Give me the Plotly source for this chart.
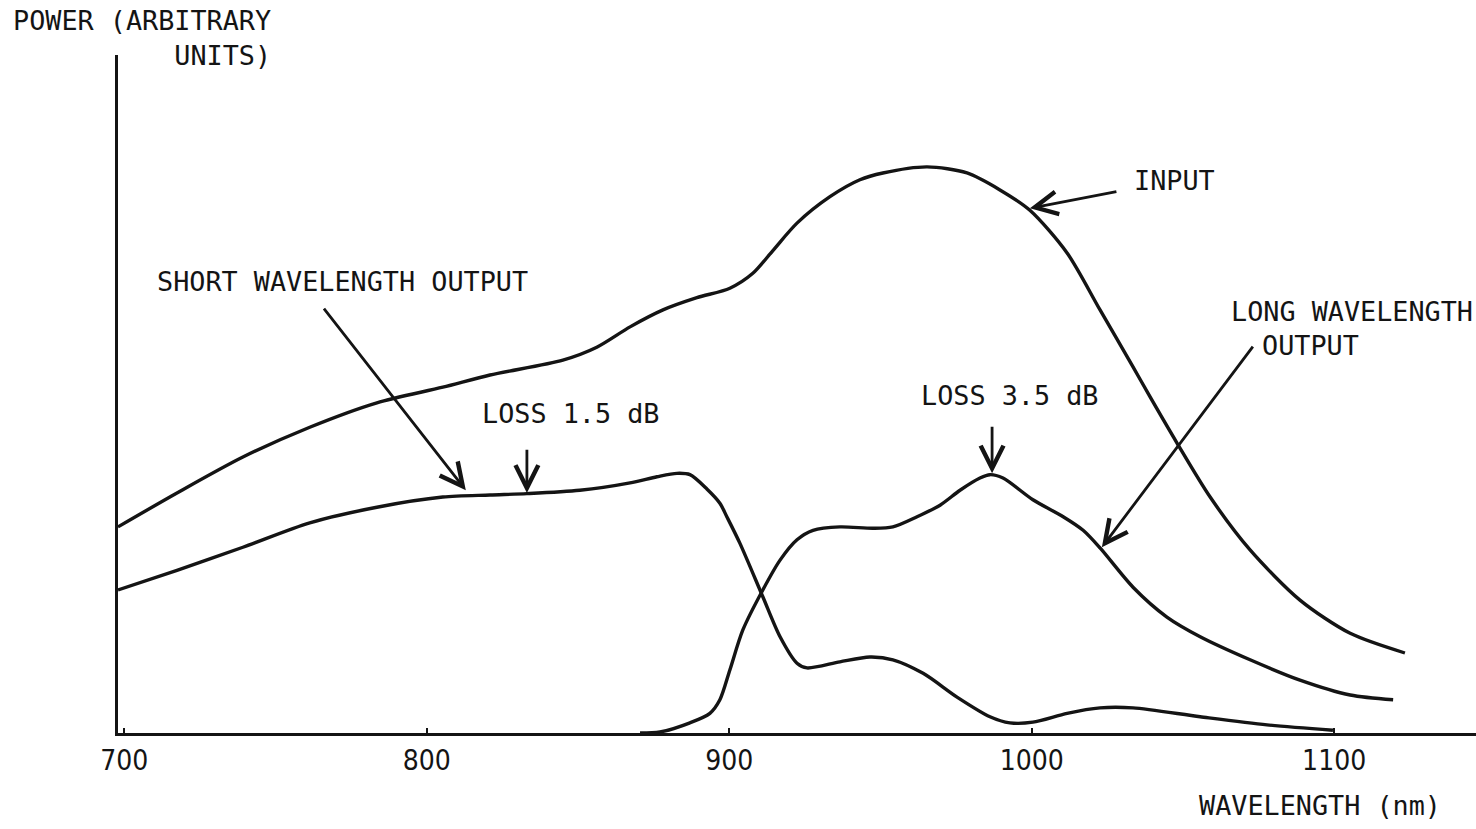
import plotly.graph_objects as go

# ---- data (wavelength nm, power arbitrary units) ----
input_nm = [697.9, 717.4, 739.2, 761.3, 783.5, 805.3, 820.9, 845.0, 856.2, 867.2, 878.1,
            889.3, 900.2, 907.8, 914.5, 922.4, 933.3, 943.2, 950.8, 965.4, 978.6, 989.5,
            999.4, 1011.7, 1022.6, 1033.5, 1039.1, 1048.0, 1059.0, 1072.2, 1088.7, 1105.3, 1123.4]
input_pw = [30.4, 35.4, 40.7, 45.1, 48.7, 51.0, 52.8, 55.0, 56.9, 59.9, 62.4,
            64.2, 65.6, 67.8, 71.2, 75.2, 79.1, 81.6, 82.6, 83.5, 82.6, 80.1,
            77.1, 70.8, 62.4, 54.0, 49.6, 42.8, 34.8, 27.0, 19.6, 14.7, 11.8]

short_nm = [697.9, 717.4, 739.2, 761.3, 783.5, 805.3, 820.9, 833.1, 850.6, 867.2, 876.1,
            882.7, 887.0, 892.6, 896.9, 899.2, 903.5, 911.1, 916.8, 922.4, 925.7, 936.6,
            946.5, 954.1, 964.1, 975.3, 986.2, 992.8, 1000.4, 1011.7, 1022.6, 1033.5,
            1055.7, 1077.8, 1099.6]
short_pw = [21.1, 24.0, 27.4, 31.0, 33.3, 34.8, 35.1, 35.3, 35.8, 36.9, 37.8,
            38.3, 38.1, 36.0, 33.9, 31.9, 28.0, 20.1, 14.2, 10.3, 9.6, 10.5,
            11.2, 10.8, 8.8, 5.3, 2.4, 1.5, 1.6, 2.9, 3.7, 3.7,
            2.4, 1.2, 0.4]

long_nm = [870.5, 877.1, 887.0, 893.6, 896.9, 900.2, 904.5, 911.1, 916.8, 922.4, 927.7,
           936.6, 947.5, 954.1, 962.1, 969.7, 976.3, 982.9, 986.2, 990.5, 1000.4, 1010.4,
           1017.0, 1022.6, 1033.5, 1044.7, 1055.7, 1072.2, 1088.7, 1105.3, 1119.5]
long_pw = [0.0, 0.15, 1.5, 2.9, 4.9, 9.3, 15.2, 21.1, 25.5, 28.5, 29.9,
           30.4, 30.2, 30.4, 31.9, 33.6, 35.8, 37.6, 38.1, 37.6, 34.4, 31.9,
           29.9, 27.3, 21.5, 17.1, 14.2, 10.8, 7.8, 5.6, 4.9]

tick_vals = [700, 800, 900, 1000, 1100]
tick_text = ["700", "800", "900", "1000", "1100"]

# arrows: (tail_nm, tail_pw, head_nm, head_pw)
arrow_input = (1028.5, 79.9, 999.4, 77.4)
arrow_short = (765.6, 62.8, 812.9, 35.8)
arrow_loss15 = (833.1, 42.0, 833.1, 35.4)
arrow_loss35 = (986.9, 45.4, 986.9, 38.3)
arrow_long = (1073.5, 57.2, 1023.2, 27.4)

INK = "#141414"
W, H = 1476, 829
L, R, T, B = 118, 0, 55, 96
PW, PH = W - L - R, H - T - B

LABEL_FONT = dict(family="DejaVu Sans Mono", size=26.8, color=INK)
TICK_FONT = dict(family="DejaVu Sans Condensed, Roboto, sans-serif", size=28, color=INK)


def px2paper(px, py):
    return (px - L) / PW, (H - B - py) / PH


fig = go.Figure()
for xs, ys in [(input_nm, input_pw), (short_nm, short_pw), (long_nm, long_pw)]:
    fig.add_trace(go.Scatter(x=xs, y=ys, mode="lines",
                             line=dict(color=INK, width=3.4, shape="spline", smoothing=0.8),
                             hoverinfo="skip", showlegend=False))

annotations = []
for (tx, ty, hx, hy) in [arrow_input, arrow_short, arrow_loss15, arrow_loss35, arrow_long]:
    annotations.append(dict(x=hx, y=hy, ax=tx, ay=ty, xref="x", yref="y",
                            axref="x", ayref="y", text="", showarrow=True,
                            arrowhead=5, arrowsize=1.6, arrowwidth=2.8,
                            arrowcolor=INK, standoff=0, startstandoff=0))


def label(text, px, py, xanchor="left", yanchor="middle", align="left"):
    x, y = px2paper(px, py)
    annotations.append(dict(x=x, y=y, xref="paper", yref="paper", text=text,
                            showarrow=False, xanchor=xanchor, yanchor=yanchor,
                            align=align, font=LABEL_FONT, borderpad=0))


label("POWER (ARBITRARY<br>UNITS)", 272, 4, xanchor="right", yanchor="top", align="right")
label("INPUT", 1133, 180)
label("SHORT WAVELENGTH OUTPUT", 156, 281)
label("LOSS 1.5 dB", 481, 413)
label("LOSS 3.5 dB", 920, 395)
label("LONG WAVELENGTH", 1230, 311)
label("OUTPUT", 1261, 345)
label("WAVELENGTH (nm)", 1198, 806)

fig.update_layout(
    width=W, height=H,
    margin=dict(l=L, r=R, t=T, b=B, pad=0),
    paper_bgcolor="white", plot_bgcolor="white",
    annotations=annotations,
    xaxis=dict(range=[697.9, 1146.9], showgrid=False, zeroline=False,
               showline=True, linecolor=INK, linewidth=3,
               tickmode="array", tickvals=tick_vals, ticktext=tick_text,
               ticks="inside", ticklen=5, tickwidth=2, tickcolor=INK,
               tickfont=TICK_FONT, ticklabelstandoff=0),
    yaxis=dict(range=[0, 100], showgrid=False, zeroline=False,
               showline=True, linecolor=INK, linewidth=3,
               showticklabels=False, ticks=""),
)

fig.write_html("out.html")
